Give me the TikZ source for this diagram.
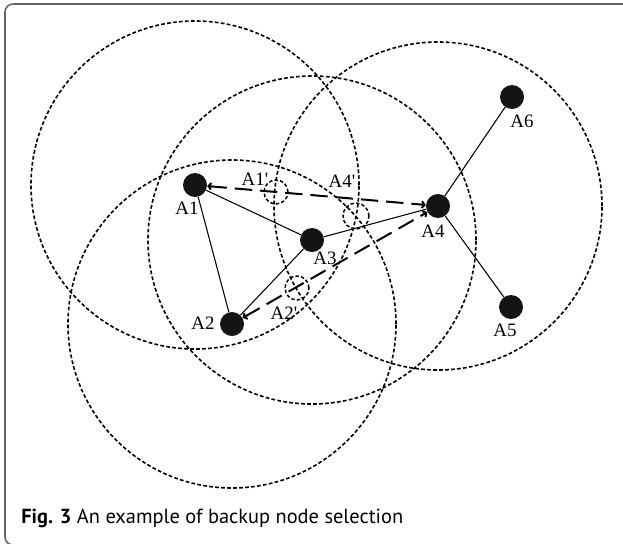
\documentclass[tikz,border=0pt]{standalone}
\usepackage{fontspec}
\setmainfont{Liberation Serif}
\newfontfamily\capfont{PT Sans}
\usetikzlibrary{arrows.meta}
\newcommand{\pr}{\textquotesingle}
\begin{document}
\begin{tikzpicture}[x=0.75pt,y=-0.75pt,
  dot/.style={circle,fill=black!92,inner sep=0,minimum size=18pt},
  lbl/.style={inner sep=0,font=\fontsize{14.2}{15}\selectfont},
  rangecirc/.style={line width=1.2pt,dash pattern=on 2.8pt off 1.7pt},
  backupc/.style={circle,draw,inner sep=0,line width=1.1pt,dash pattern=on 2.6pt off 1.6pt},
  link/.style={line width=0.8pt},
  route/.style={line width=1.5pt,dash pattern=on 13pt off 6pt,
    {Straight Barb[length=2pt,width=5pt]}-{Straight Barb[length=2pt,width=5pt]}}]
\useasboundingbox (0,0) rectangle (623,543);
\draw[black!60,line width=1.2pt,rounded corners=6pt] (5,4) rectangle (640,545);
% sensor nodes
\node[dot] (A1) at (195,185) {};
\node[dot] (A2) at (232,324) {};
\node[dot] (A3) at (312,240) {};
\node[dot] (A4) at (438,206) {};
\node[dot] (A5) at (511,307) {};
\node[dot] (A6) at (512,97) {};
% range circles
\draw[rangecirc] (A1) circle[radius=123pt];
\draw[rangecirc] (A2) circle[radius=123pt];
\draw[rangecirc] (A3) circle[radius=123pt];
\draw[rangecirc] (A4) circle[radius=123pt];
% backup positions
\node[backupc,minimum size=18pt] (B1) at (276,192) {};
\node[backupc,minimum size=19.5pt] (B4) at (356,216) {};
\node[backupc,minimum size=18pt] (B2) at (297,288) {};
% links
\draw[link] (A1) -- (A3);
\draw[link] (A1) -- (A2);
\draw[link] (A3) -- (A2);
\draw[link] (A3) -- (A4);
\draw[link] (A4) -- (A6);
\draw[link] (A4) -- (A5);
\draw[route] (A1) -- (A4);
\draw[route] (A2) -- (A4);
% labels
\node[lbl] (L1) at (187,208) {A1};
\node[lbl] (L2) at (203,323) {A2};
\node[lbl] (L3) at (325,258) {A3};
\node[lbl] (L4) at (433,231) {A4};
\node[lbl] (L5) at (505,330) {A5};
\node[lbl] (L6) at (522,121) {A6};
\node[lbl] (L1p) at (255,179) {A1\pr};
\node[lbl] (L4p) at (342,181) {A4\pr};
\node[lbl] (L2p) at (284,313) {A2\pr};
% caption
\node[anchor=base west,inner sep=0,font=\capfont\fontsize{15.3}{16}\selectfont] (cap) at (21,523) {\textbf{Fig. 3} An example of backup node selection};
\end{tikzpicture}
\end{document}
